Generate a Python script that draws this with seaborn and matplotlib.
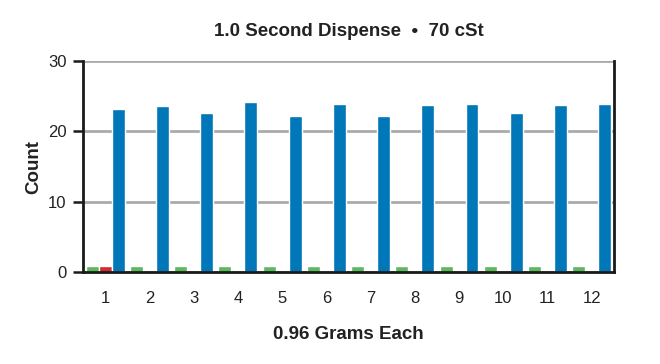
import pandas as pd
import matplotlib.pyplot as plt
import numpy as np
import seaborn as sns

groups = [str(i) for i in range(1, 13)]
green_vals = [0.8] * 12
red_vals = [0.8] + [0.0] * 11
blue_vals = [23.2, 23.6, 22.6, 24.2, 22.2, 23.9, 22.2, 23.8, 23.9, 22.6, 23.8, 23.9]

df = pd.DataFrame({
    'group': groups * 3,
    'series': ['green'] * 12 + ['red'] * 12 + ['blue'] * 12,
    'count': green_vals + red_vals + blue_vals,
})

sns.set_style('white')
plt.rcParams['font.family'] = ['Liberation Sans', 'DejaVu Sans']

fig = plt.figure(figsize=(6.6, 3.64), dpi=100)
ax = fig.add_axes([0.126, 0.253, 0.804, 0.579])

pal = {'green': '#5cb85c', 'red': '#d42a2a', 'blue': '#0077b8'}
sns.barplot(data=df, x='group', y='count', hue='series', palette=pal,
            order=groups, hue_order=['green', 'red', 'blue'],
            width=0.88, saturation=1, legend=False, ax=ax)

ax.set_ylim(0, 30)
ax.set_xlim(-0.5, 11.5)
ax.set_yticks([0, 10, 20, 30])
ax.yaxis.grid(True, color='#aaaaaa', linewidth=2)
ax.set_axisbelow(True)

ax.set_xticks(np.arange(-0.5, 12, 1), minor=True)
ax.tick_params(axis='x', which='major', length=0, pad=14, labelsize=12, labelcolor='#222222')
ax.tick_params(axis='x', which='minor', length=8, width=1.8, color='#1a1a1a', direction='out')
ax.tick_params(axis='y', length=7, width=1.8, color='#1a1a1a', direction='out',
               labelsize=12, labelcolor='#222222', left=True, pad=5)

for s in ['left', 'right', 'bottom']:
    ax.spines[s].set_color('#1a1a1a')
    ax.spines[s].set_linewidth(2)
ax.spines['top'].set_visible(False)

ax.set_xlabel('0.96 Grams Each', fontsize=13.5, fontweight='bold', labelpad=14, color='#222222')
ax.set_ylabel('Count', fontsize=13.5, fontweight='bold', labelpad=4, color='#222222')
ax.set_title('1.0 Second Dispense  \u2022  70 cSt', fontsize=13.5, fontweight='bold', pad=18, color='#222222')

plt.savefig('out.png', dpi=100)
